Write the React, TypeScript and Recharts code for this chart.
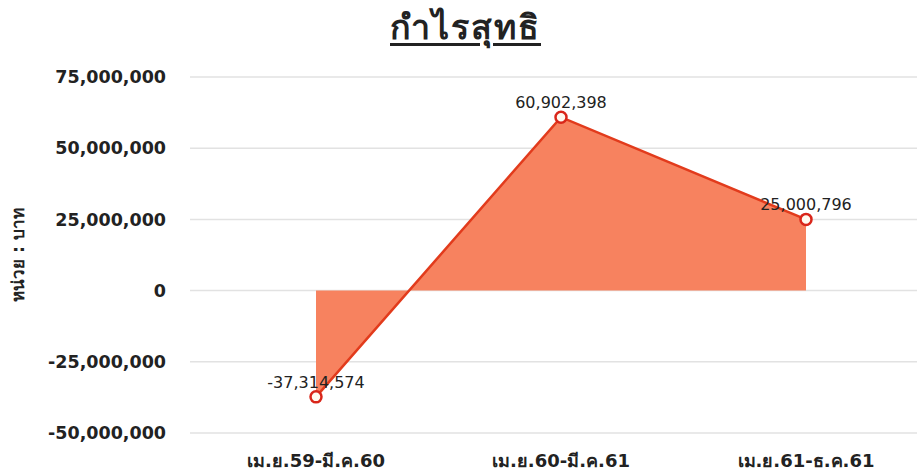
import React from 'react';
import {
  AreaChart,
  Area,
  XAxis,
  YAxis,
  CartesianGrid,
  LabelList,
} from 'recharts';

const periods = ['เม.ย.59-มี.ค.60', 'เม.ย.60-มี.ค.61', 'เม.ย.61-ธ.ค.61'];
const netProfit = [-37314574, 60902398, 25000796];
const yTicks = [-50000000, -25000000, 0, 25000000, 50000000, 75000000];

const data = periods.map((p, i) => ({ name: p, profit: netProfit[i] }));

const FONT = '"DejaVu Sans", "Noto Sans", sans-serif';
const fmt = (v: number) => v.toLocaleString('en-US');

// unit label, reads bottom to top
const UnitLabel = (props: any) => {
  const vb = props.viewBox || {};
  const cx = 18;
  const cy = vb.y + vb.height / 2;
  return (
    <text
      x={cx}
      y={cy}
      transform={`rotate(-90, ${cx}, ${cy})`}
      textAnchor="middle"
      dominantBaseline="central"
      fontSize={17}
      fontWeight={700}
      fill="#222"
      fontFamily={FONT}
    >
      หน่วย : บาท
    </text>
  );
};

export default function App() {
  return (
    <div style={{ position: 'absolute', left: 0, top: 0, width: 917, height: 474, background: '#fff', fontFamily: FONT }}>
      <div
        style={{
          position: 'absolute',
          top: 0,
          left: 7,
          width: 917,
          textAlign: 'center',
          fontSize: 34,
          fontWeight: 700,
          letterSpacing: 2,
          color: '#222',
          textDecoration: 'underline',
          textUnderlineOffset: 4,
        }}
      >
        กำไรสุทธิ
      </div>
      <AreaChart
        width={917}
        height={474}
        data={data}
        margin={{ top: 77, right: 0, left: 8, bottom: 11 }}
      >
        <CartesianGrid vertical={false} stroke="#e2e2e2" strokeWidth={1.5} />
        <XAxis
          dataKey="name"
          axisLine={false}
          tickLine={false}
          tickSize={0}
          tickMargin={21}
          height={30}
          padding={{ left: 126, right: 111 }}
          tick={{ fontSize: 18, fill: '#222', fontWeight: 600, fontFamily: FONT }}
        />
        <YAxis
          width={182}
          domain={[-50000000, 75000000]}
          ticks={yTicks}
          interval={0}
          axisLine={false}
          tickLine={false}
          tickSize={0}
          tickMargin={24}
          tickFormatter={fmt}
          tick={{ fontSize: 17.5, fill: '#222', fontWeight: 700, fontFamily: FONT }}
          label={<UnitLabel />}
        />
        <Area
          type="linear"
          dataKey="profit"
          stroke="#e23b1c"
          strokeWidth={2.5}
          fill="#f7825f"
          fillOpacity={1}
          isAnimationActive={false}
          dot={{ r: 5.5, fill: '#fffaf0', stroke: '#d9261a', strokeWidth: 2.5 }}
          activeDot={false}
        >
          <LabelList
            dataKey="profit"
            position="top"
            offset={9}
            formatter={(v: any) => fmt(Number(v))}
            style={{ fontSize: 16, fill: '#222', fontFamily: FONT }}
          />
        </Area>
      </AreaChart>
    </div>
  );
}
